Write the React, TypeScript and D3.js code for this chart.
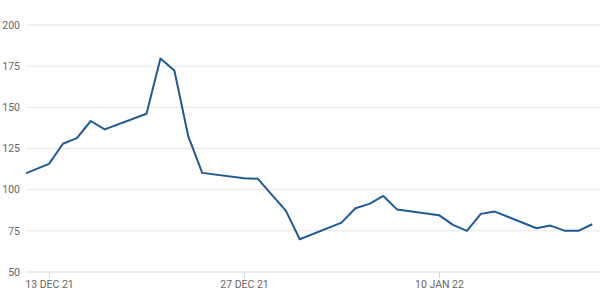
import React from "react";
import * as d3 from "d3";

const dates: string[] = [
  "2021-12-10", "2021-12-13", "2021-12-14", "2021-12-15", "2021-12-16", "2021-12-17",
  "2021-12-20", "2021-12-21", "2021-12-22", "2021-12-23", "2021-12-24",
  "2021-12-27", "2021-12-28", "2021-12-29", "2021-12-30", "2021-12-31",
  "2022-01-03", "2022-01-04", "2022-01-05", "2022-01-06", "2022-01-07",
  "2022-01-10", "2022-01-11", "2022-01-12", "2022-01-13", "2022-01-14",
  "2022-01-17", "2022-01-18", "2022-01-19", "2022-01-20", "2022-01-21",
];
const values: number[] = [
  105.3, 115.7, 127.9, 131.3, 141.7, 136.6,
  146.1, 179.7, 172.4, 132.3, 110.2,
  107.0, 106.6, 96.8, 87.3, 69.9,
  80.0, 88.7, 91.4, 96.2, 87.9,
  84.5, 78.6, 75.0, 85.3, 86.7,
  76.6, 78.2, 75.1, 75.0, 79.0,
];
const yTicks: number[] = [50, 75, 100, 125, 150, 175, 200];
const xTickDates: string[] = ["2021-12-13", "2021-12-27", "2022-01-10"];
const xTickLabels: string[] = ["13 DEC 21", "27 DEC 21", "10 JAN 22"];

const W = 600, H = 295;
const M = { left: 26, right: 0, top: 25, bottom: 23 };

export default function App() {
  const parse = (s: string) => new Date(s + "T00:00:00Z");
  const d0 = parse("2021-12-13").getTime();
  const day = 86400000;
  const pxPerDay = 13.93;
  const x = d3.scaleUtc()
    .domain([new Date(d0 - (49 - M.left) / pxPerDay * day), new Date(d0 + (W - 49) / pxPerDay * day)])
    .range([M.left, W - M.right]);
  const y = d3.scaleLinear().domain([50, 200]).range([H - M.bottom, M.top]);
  const data = dates.map((d, i) => ({ d: parse(d), v: values[i] }));
  const line = d3.line<{ d: Date; v: number }>().x(p => x(p.d)).y(p => y(p.v));
  const font = "Roboto, 'Open Sans', sans-serif";
  return (
    <svg width={W} height={H} style={{ position: "absolute", left: 0, top: 0, background: "#fff" }}>
      <defs>
        <clipPath id="plot">
          <rect x={M.left} y={0} width={W - M.left} height={H} />
        </clipPath>
      </defs>
      {yTicks.map(t => (
        <g key={t}>
          {t !== 50 && (
            <line x1={M.left} x2={W} y1={y(t)} y2={y(t)} stroke="#e6e6e6" strokeWidth={1} />
          )}
          <text x={20} y={y(t)} dy="0.35em" textAnchor="end" fontSize={10.5} fill="#666" fontFamily={font}>{t}</text>
        </g>
      ))}
      <line x1={M.left} x2={W} y1={y(50)} y2={y(50)} stroke="#ccd9ea" strokeWidth={1} />
      {xTickDates.map((d, i) => {
        const xx = Math.round(x(parse(d))) + 0.5;
        return (
          <g key={d}>
            <line x1={xx} x2={xx} y1={y(50)} y2={y(50) + 6} stroke="#ccd9ea" strokeWidth={1} />
            <text x={xx} y={y(50) + 12} dy="0.35em" textAnchor="middle" fontSize={10.5} fill="#666" fontFamily={font}>{xTickLabels[i]}</text>
          </g>
        );
      })}
      <path d={line(data) || ""} fill="none" stroke="#1f5a96" strokeWidth={2} strokeLinejoin="round" clipPath="url(#plot)" />
    </svg>
  );
}
